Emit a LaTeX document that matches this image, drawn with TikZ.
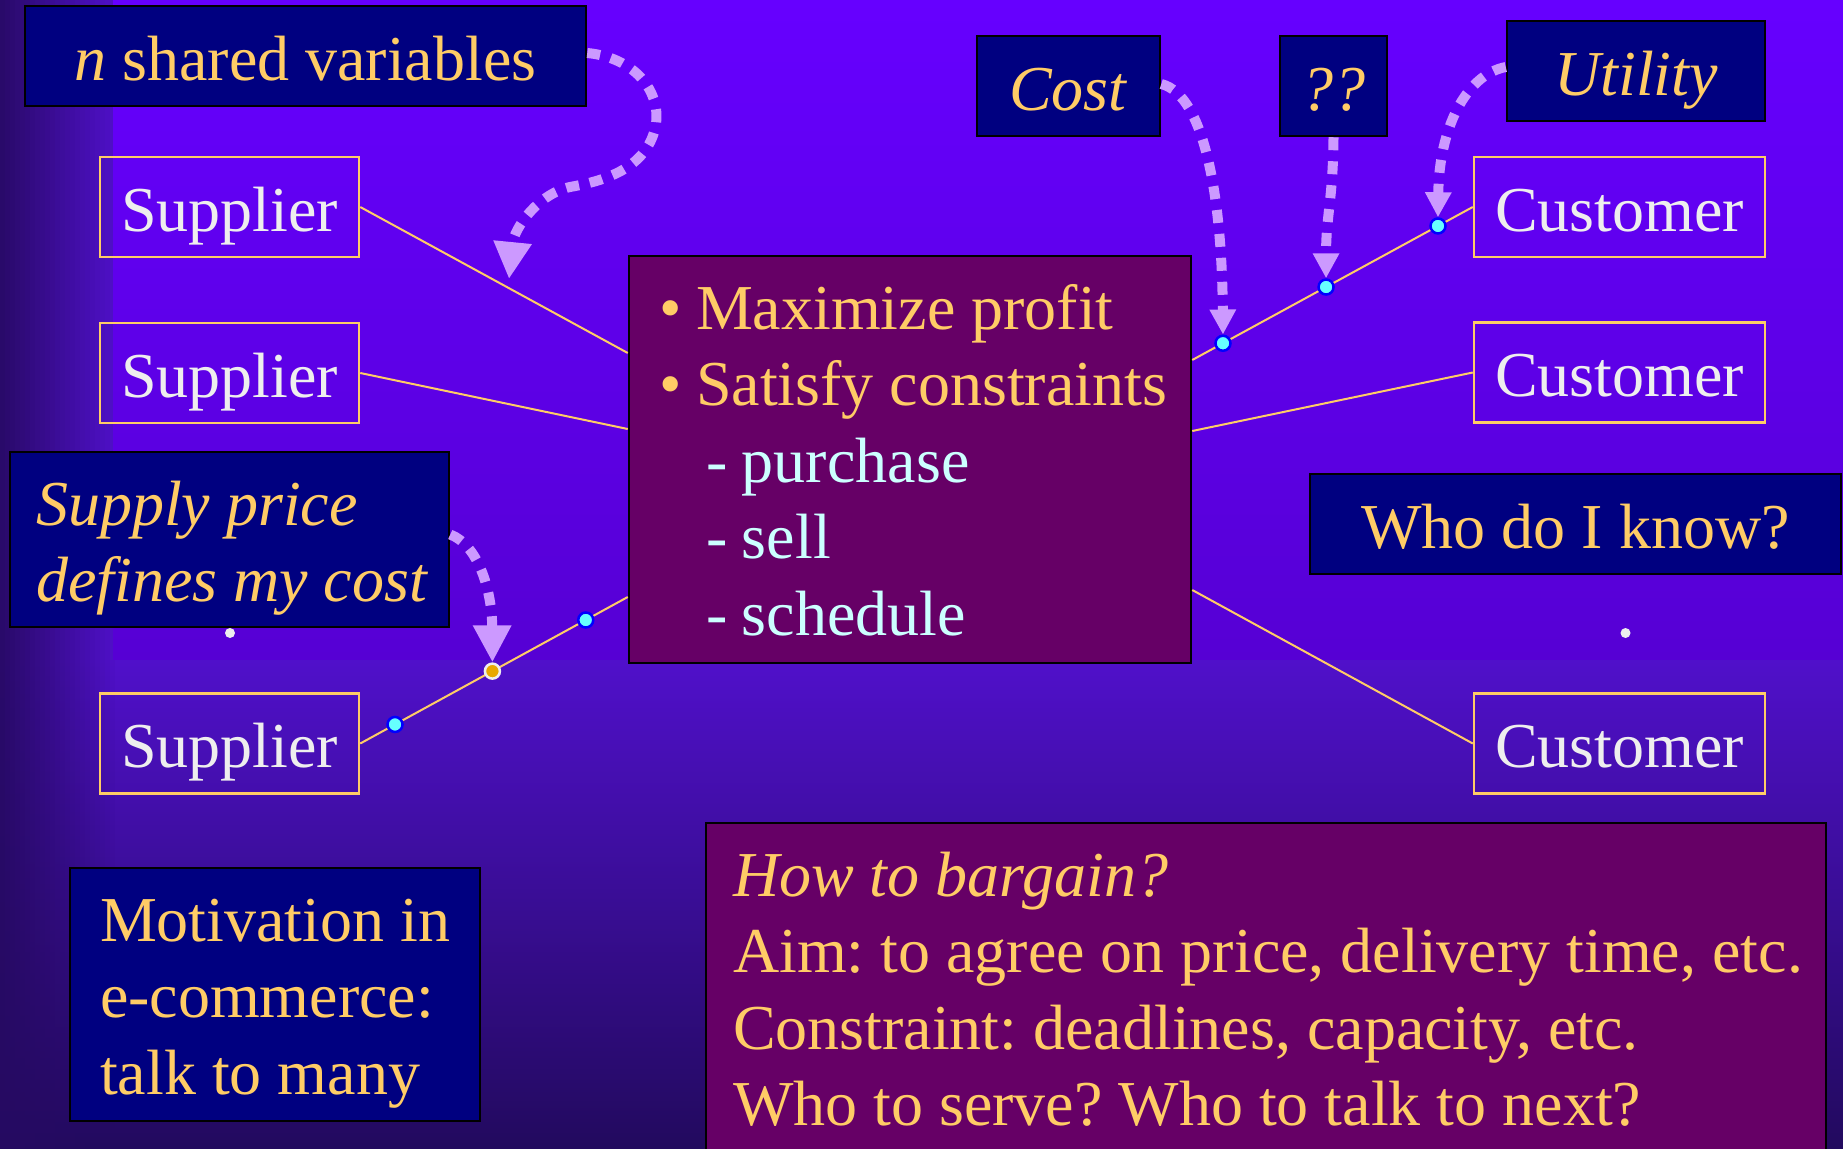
\documentclass[tikz,border=0pt]{standalone}
\usepackage{fontspec}
\setmainfont{Liberation Serif}
\usetikzlibrary{arrows.meta}
\definecolor{navyc}{HTML}{000080}
\definecolor{yellowc}{HTML}{FFCC66}
\definecolor{whitec}{HTML}{EEEEEE}
\definecolor{purplec}{HTML}{660066}
\definecolor{cyantext}{HTML}{CCFFFF}
\definecolor{lilac}{HTML}{CC99FF}
\definecolor{dotcyan}{HTML}{66FFFF}
\definecolor{dotblue}{HTML}{0000FF}
\definecolor{dotorange}{HTML}{E8A800}
\definecolor{bgmid}{HTML}{5010CA}
\definecolor{bgbot}{HTML}{220A5E}
\definecolor{stripc}{HTML}{260A62}
\definecolor{topA}{HTML}{6600FF}
\definecolor{topM}{HTML}{6300F6}
\definecolor{topB}{HTML}{5600D4}
\newcommand{\bigf}{\fontsize{64}{76.5}\selectfont\frenchspacing}
\begin{document}
\begin{tikzpicture}[x=1pt,y=-1pt,
  navybox/.style={draw=black, line width=2.5pt, fill=navyc, text=yellowc, inner sep=0pt, font=\bigf},
  purplebox/.style={draw=black, line width=2.5pt, fill=purplec, text=yellowc, inner sep=0pt, font=\bigf},
  oneline/.style={text height=50pt, text depth=2pt, minimum height=100pt},
  partybox/.style={draw=yellowc, line width=2.5pt, text=whitec, inner sep=0pt, font=\bigf, oneline},
  conn/.style={draw=yellowc, line width=2pt},
  darrL/.style={draw=lilac, line width=10pt, dash pattern=on 13pt off 11pt, -{Triangle[width=36pt,length=37pt]}},
  darrS/.style={draw=lilac, line width=10pt, dash pattern=on 13pt off 11pt, -{Triangle[width=25pt,length=25pt]}},
  cdot/.style={circle, fill=dotcyan, draw=dotblue, line width=2.5pt, minimum size=15pt, inner sep=0pt},
  odot/.style={circle, fill=dotorange, draw=whitec, line width=2.5pt, minimum size=15pt, inner sep=0pt},
  wdot/.style={circle, fill=whitec, minimum size=10pt, inner sep=0pt}
]
\useasboundingbox (0,0) rectangle (1843,1148);
% background
\fill[bgmid] (0,0) rectangle (1843,661);
\shade[top color=bgmid, bottom color=bgbot] (0,660) rectangle (1843,1148);
\foreach \i in {0,...,22} {
  \pgfmathsetmacro\op{0.92*(1-\i/23)}
  \fill[stripc, opacity=\op] ({\i*5},0) rectangle ({\i*5+5},1148);
}
\shade[top color=topA, middle color=topM, bottom color=topB] (113,0) rectangle (1843,659);

% boxes
\node[navybox, oneline, minimum width=561pt] (nsh) at (305.5,56) {\textit{n} shared variables};
\node[navybox, oneline, minimum width=183pt] (cost) at (1068.5,86) {\textit{Cost}};
\node[navybox, oneline, minimum width=107pt] (qq) at (1333.5,86) {\textit{??}};
\node[navybox, oneline, minimum width=258pt] (util) at (1636,71) {\textit{Utility}};
\node[navybox, oneline, minimum width=531pt] (who) at (1575.5,524) {Who do I know?};

\node[partybox, minimum width=259pt] (S1) at (229.5,207) {Supplier};
\node[partybox, minimum width=259pt] (S2) at (229.5,373) {Supplier};
\node[partybox, minimum width=259pt] (S3) at (229.5,743.5) {Supplier};
\node[partybox, minimum width=291pt] (C1) at (1619.5,207) {Customer};
\node[partybox, minimum width=291pt] (C2) at (1619.5,372.5) {Customer};
\node[partybox, minimum width=291pt] (C3) at (1619.5,743.5) {Customer};

\node[navybox, minimum width=439pt, minimum height=175pt, text height=45pt, text depth=74pt] (sup) at (229.5,539.5)
  {\parbox[t]{387pt}{\raggedright\itshape \mbox{Supply price}\\ \mbox{defines my cost}}};

\node[purplebox, minimum width=562pt, minimum height=407pt, text height=45pt, text depth=306pt] (mid) at (910,459.5)
  {\parbox[t]{502pt}{\raggedright
   \mbox{\makebox[37pt][l]{\textbullet}Maximize profit}\\
   \mbox{\makebox[37pt][l]{\textbullet}Satisfy constraints}\\
   \mbox{\color{cyantext}\hspace*{47pt}\makebox[36pt][l]{-}purchase}\\
   \mbox{\color{cyantext}\hspace*{47pt}\makebox[36pt][l]{-}sell}\\
   \mbox{\color{cyantext}\hspace*{47pt}\makebox[36pt][l]{-}schedule}}};

\node[navybox, minimum width=410pt, minimum height=253pt, text height=45pt, text depth=152pt] (mot) at (275,994.5)
  {\parbox[t]{350pt}{\raggedright \mbox{Motivation in}\\ \mbox{e-commerce:}\\ \mbox{talk to many}}};

\node[purplebox, minimum width=1120pt, minimum height=352pt, text height=45pt, text depth=251pt] (bot) at (1266,999)
  {\parbox[t]{1066pt}{\raggedright \mbox{\itshape How to bargain?}\\
   \mbox{Aim: to agree on price, delivery time, etc.}\\
   \mbox{Constraint: deadlines, capacity, etc.}\\
   \mbox{Who to serve? Who to talk to next?}}};

\node[wdot] (w1) at (230,633) {};
\node[wdot] (w2) at (1625.5,633) {};

% attachment points on the central box
\coordinate (mL1) at ([yshift=106.5pt]mid.west);
\coordinate (mL2) at ([yshift=30.5pt]mid.west);
\coordinate (mL3) at ([yshift=-137.5pt]mid.west);
\coordinate (mR1) at ([yshift=99.5pt]mid.east);
\coordinate (mR2) at ([yshift=28.5pt]mid.east);
\coordinate (mR3) at ([yshift=-130.5pt]mid.east);

% connectors
\draw[conn] (S1.east) -- (mL1);
\draw[conn] (S2.east) -- (mL2);
\draw[conn] (S3.east) -- node[cdot, pos=0.13] (d4) {} node[odot, pos=0.494] (o1) {} node[cdot, pos=0.843] (d5) {} (mL3);
\draw[conn] (mR1) -- node[cdot, pos=0.1095] (d1) {} node[cdot, pos=0.477] (d2) {} node[cdot, pos=0.876] (d3) {} (C1.west);
\draw[conn] (mR2) -- (C2.west);
\draw[conn] (mR3) -- (C3.west);

% dotted arrows
\coordinate (nshTip) at (509,279);
\draw[darrL] ([yshift=3pt]nsh.east) .. controls (640,58) and (668,100) .. (652,138)
   .. controls (638,172) and (598,182) .. (570,187)
   .. controls (538,194) and (514,228) .. (nshTip);
\draw[darrL] ([yshift=5pt]sup.east) .. controls (478,545) and (492,590) .. (o1.north);
\draw[darrS] ([yshift=2pt]cost.east) .. controls (1205,95) and (1222,200) .. (d1.north);
\draw[darrS] (qq.south) .. controls (1333,200) and (1326,215) .. (d2.north);
\draw[darrS] ([yshift=4pt]util.west) .. controls (1465,75) and (1439,130) .. (d3.north);
\end{tikzpicture}
\end{document}
